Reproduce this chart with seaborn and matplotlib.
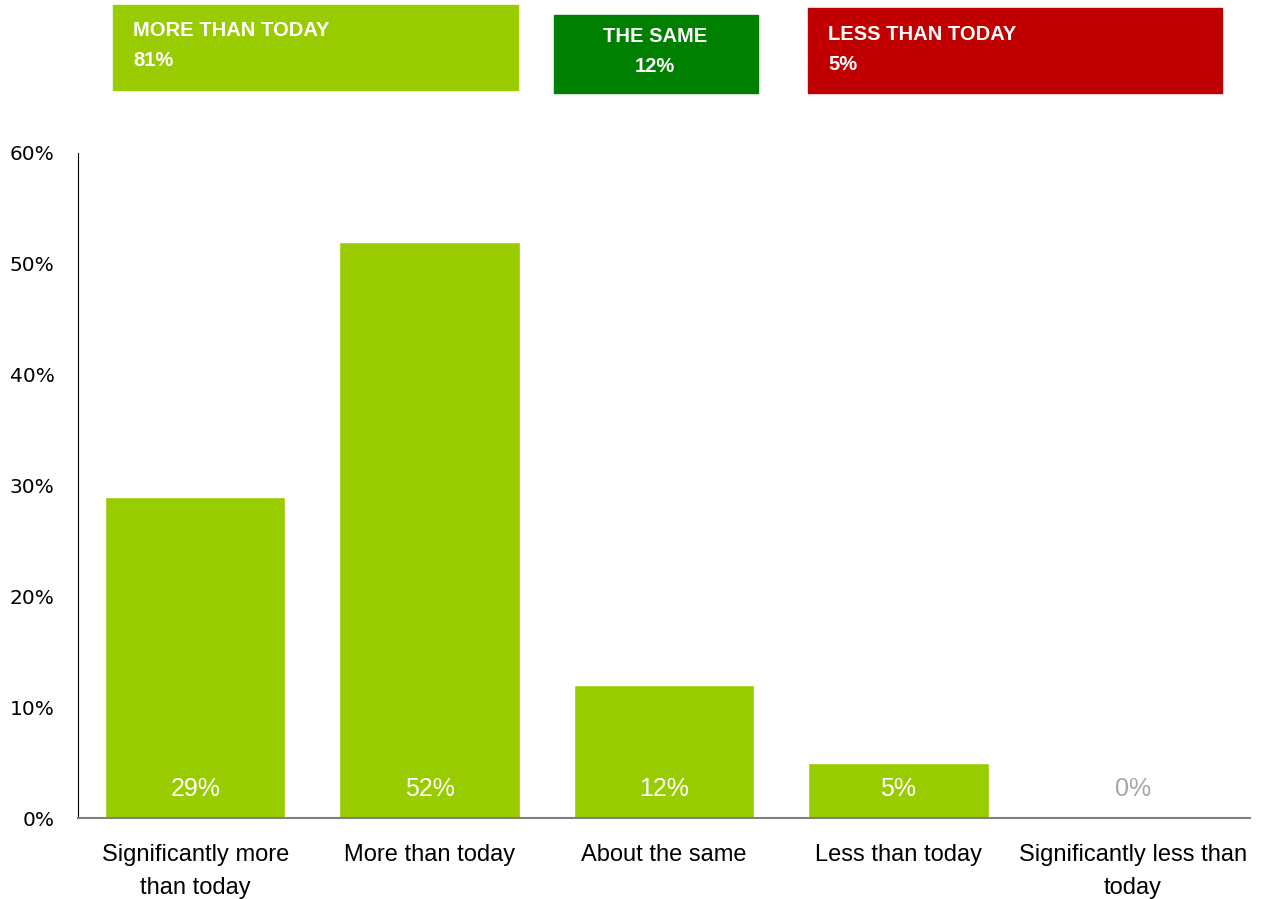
import matplotlib
matplotlib.use("Agg")
import matplotlib.pyplot as plt
from matplotlib.patches import Rectangle
import seaborn as sns
import pandas as pd

# Survey answers and shares (percent)
categories = ["Significantly more\nthan today", "More than today", "About the same",
              "Less than today", "Significantly less than\ntoday"]
shares = [29, 52, 12, 5, 0]

# Summary boxes shown above the chart
summary_titles = ["MORE THAN TODAY", "THE SAME", "LESS THAN TODAY"]
summary_values = [81, 12, 5]

yticks = [0, 10, 20, 30, 40, 50, 60]

LIGHT_GREEN = "#99CC00"
DARK_GREEN = "#008000"
RED = "#C00000"

sns.set_theme(style="white")
plt.rcParams["font.family"] = ["DejaVu Sans"]
NARROW = ["Liberation Sans Narrow", "Liberation Sans", "DejaVu Sans"]

df = pd.DataFrame({"answer": categories, "share": shares})

fig = plt.figure(figsize=(12.64, 8.99), dpi=100)
ax = fig.add_axes([78 / 1264, 1 - 818 / 899, (1250 - 78) / 1264, (818 - 153) / 899])

sns.barplot(data=df, x="answer", y="share", color=LIGHT_GREEN, width=0.77,
            saturation=1, ax=ax)

ax.set_xlim(-0.5, len(categories) - 0.5)
ax.set_ylim(0, 60)
ax.set_yticks(yticks)
ax.set_yticklabels([f"{v}%" for v in yticks], fontsize=14.5, color="#000000")
ax.set_xlabel("")
ax.set_ylabel("")
ax.tick_params(axis="both", length=0)
ax.tick_params(axis="y", pad=17)
ax.tick_params(axis="x", pad=19)
for lbl in ax.get_xticklabels():
    lbl.set_fontfamily(NARROW)
    lbl.set_fontsize(17)
    lbl.set_linespacing(1.65)
    lbl.set_color("#000000")

for side in ("top", "right"):
    ax.spines[side].set_visible(False)
ax.spines["left"].set_color("#000000")
ax.spines["left"].set_linewidth(0.8)
ax.spines["bottom"].set_color("#808080")
ax.spines["bottom"].set_linewidth(1.5)
ax.grid(False)

# Value labels near the base of each bar
for i, v in enumerate(shares):
    ax.text(i, 2.6, f"{v}%", ha="center", va="center", fontsize=18,
            family=NARROW, color="white" if v > 0 else "#A6A6A6")

# Summary boxes (figure pixel coordinates converted to fractions)
W, H = 1264, 899
boxes = [
    dict(x0=113, x1=518, y0=5, y1=90, color=LIGHT_GREEN, tx=133, ha="left", ty=(31, 61)),
    dict(x0=554, x1=758, y0=15, y1=93, color=DARK_GREEN, tx=655, ha="center", ty=(37, 66)),
    dict(x0=808, x1=1222, y0=8, y1=93, color=RED, tx=828, ha="left", ty=(34, 64)),
]
for b, title, val in zip(boxes, summary_titles, summary_values):
    fig.patches.append(Rectangle((b["x0"] / W, 1 - b["y1"] / H),
                                 (b["x1"] - b["x0"]) / W, (b["y1"] - b["y0"]) / H,
                                 transform=fig.transFigure, color=b["color"], zorder=0))
    fig.text(b["tx"] / W, 1 - b["ty"][0] / H, title, ha=b["ha"], va="center",
             fontsize=14.5, fontweight="bold", color="white", family=NARROW)
    fig.text(b["tx"] / W, 1 - b["ty"][1] / H, f"{val}%", ha=b["ha"], va="center",
             fontsize=14.5, fontweight="bold", color="white", family=NARROW)

fig.savefig("out.png", dpi=100, facecolor="white")
